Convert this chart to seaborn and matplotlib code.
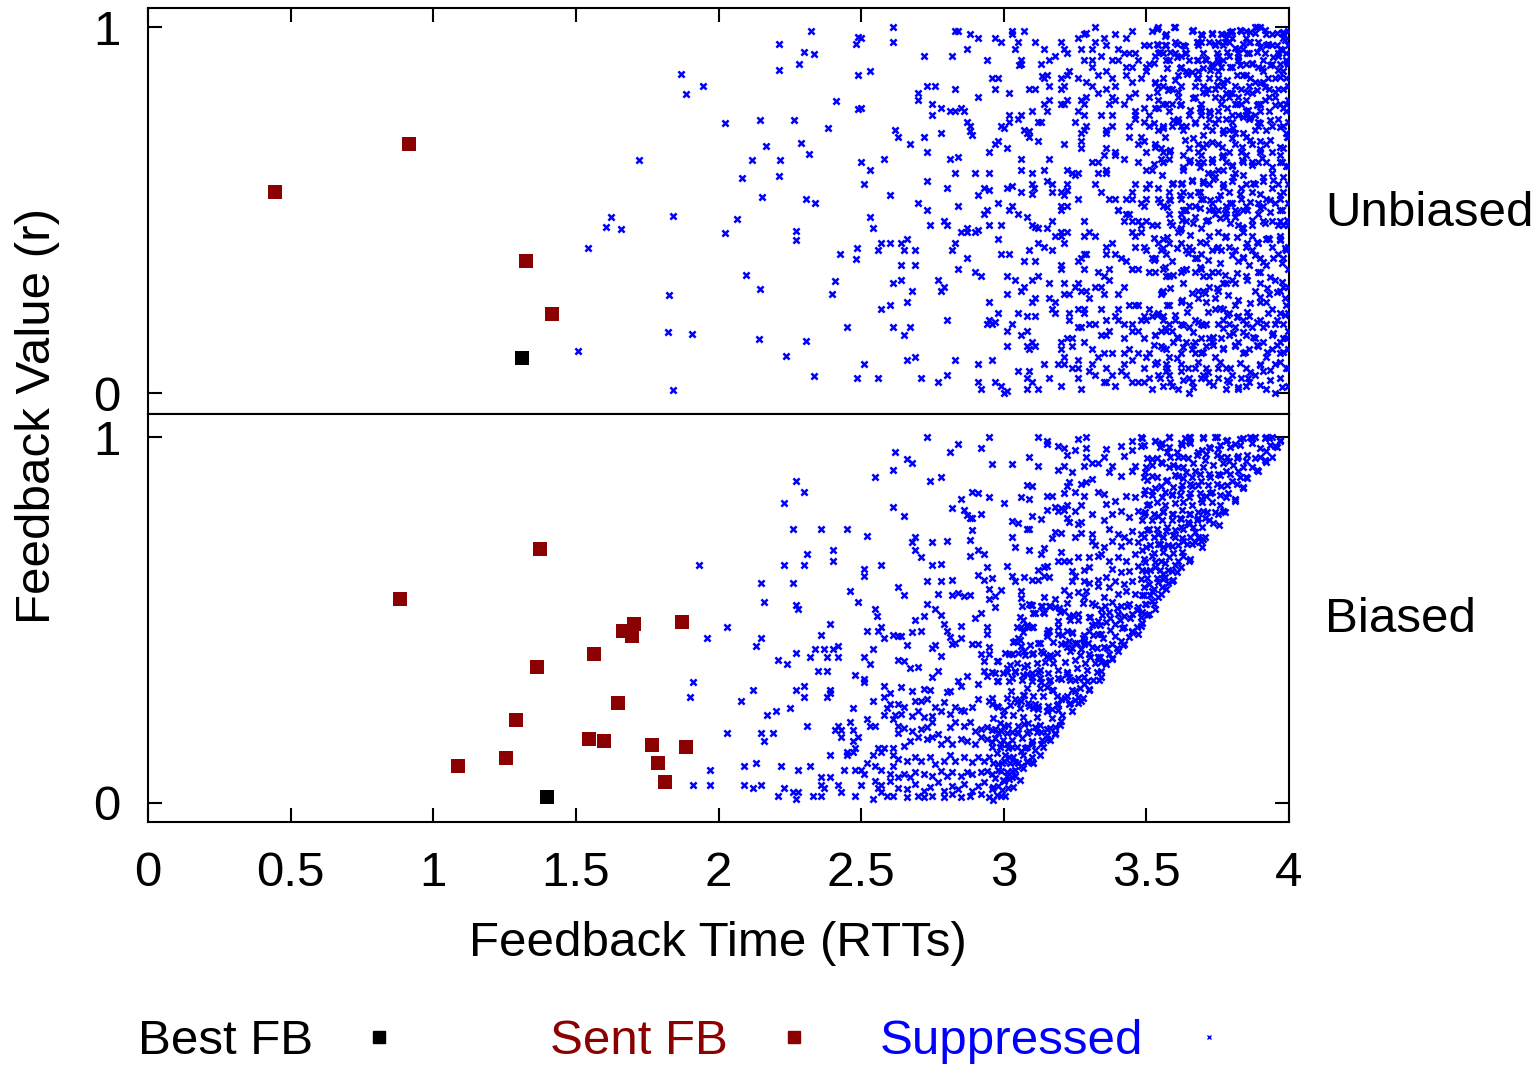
import numpy as np
import pandas as pd
import matplotlib
matplotlib.use("Agg")
import matplotlib.pyplot as plt
from matplotlib.lines import Line2D
import seaborn as sns

# ---------------- data ----------------
best_top_x = [1.311]
best_top_y = [0.096]
sent_top_x = [0.445, 0.915, 1.325, 1.416]
sent_top_y = [0.549, 0.680, 0.361, 0.216]

best_bot_x = [1.399]
best_bot_y = [0.016]
sent_bot_x = [0.883, 1.374, 1.087, 1.255, 1.290, 1.364, 1.564, 1.665, 1.704, 1.697,
              1.872, 1.648, 1.546, 1.599, 1.767, 1.886, 1.788, 1.812]
sent_bot_y = [0.557, 0.694, 0.101, 0.123, 0.227, 0.372, 0.407, 0.470, 0.489, 0.456,
              0.495, 0.273, 0.175, 0.169, 0.158, 0.153, 0.109, 0.057]

top_sup_a = [(2.323,0.989),(2.490,0.972),(2.213,0.954),(2.481,0.953),(2.301,0.933),(2.335,0.925),(2.282,0.898),(2.213,0.884),(1.867,0.872),(2.489,0.869),(1.946,0.840),(1.885,0.816),(2.412,0.797),(2.489,0.775),(2.145,0.745),(2.266,0.745),(2.023,0.738),(2.385,0.724),(2.290,0.682),(2.168,0.675),(2.316,0.653),(1.721,0.638),(2.116,0.638),(2.214,0.638),(2.211,0.593),(2.082,0.587),(2.152,0.537),(2.308,0.529),(2.337,0.520),(1.624,0.481),(1.842,0.485),(1.607,0.455),(1.657,0.449),(2.065,0.475),(2.022,0.437),(2.273,0.442),(2.273,0.417),(1.544,0.397),(2.484,0.396),(2.427,0.381),(2.483,0.367),(2.098,0.324),(2.410,0.305),(2.147,0.284),(2.399,0.272),(1.828,0.267),(2.449,0.182),(1.824,0.167),(1.906,0.162),(2.142,0.149),(2.308,0.143),(1.507,0.114),(2.237,0.101),(2.336,0.047),(2.484,0.041),(1.840,0.009)]

top_sup_b = [(2.61,1.00),(2.61,0.96),(2.50,0.97),(2.53,0.88),(2.72,0.92),(2.82,0.92),(2.83,0.99),(2.84,0.99),(2.88,0.98),(2.91,0.97),(2.87,0.94),(2.94,0.91),(2.97,0.97),(2.99,0.96),(3.03,0.99),(3.03,0.98),(3.07,0.99),(3.05,0.96),(3.04,0.94),(3.11,0.96),(3.14,0.94),(3.06,0.91),(3.06,0.90),(3.055,0.895),(3.13,0.90),(3.16,0.91),(3.18,0.92),(3.20,0.96),(3.21,0.94),(3.22,0.93),(3.26,0.97),
(2.96,0.86),(2.98,0.86),(3.02,0.82),(2.97,0.83),(2.91,0.81),(2.83,0.83),(2.76,0.84),(2.73,0.84),(2.70,0.82),(2.70,0.80),(2.75,0.79),(2.78,0.78),(2.81,0.77),(2.83,0.77),(2.85,0.78),(2.86,0.77),(2.75,0.76),(2.87,0.74),(2.88,0.73),(2.88,0.715),(2.89,0.705),(2.72,0.70),(2.78,0.71),(2.62,0.72),(2.63,0.70),(2.67,0.68),(2.73,0.66),(2.50,0.78),(2.50,0.63),(2.58,0.64),(2.53,0.61),(2.51,0.57),(2.81,0.64),(2.84,0.645),(2.83,0.60),(2.90,0.60),(2.95,0.60),(2.73,0.58),(2.80,0.56),(2.60,0.54),(2.70,0.52),(2.73,0.50),(2.84,0.51),(2.91,0.54),(2.93,0.56),(2.95,0.555),(2.98,0.52),(2.93,0.49),(2.94,0.50),(3.02,0.50),(3.03,0.51),(3.05,0.49),(3.01,0.56),(3.03,0.565),(3.06,0.55),(3.10,0.57),(3.105,0.56),(3.10,0.545),(3.10,0.60),(3.14,0.61),(3.15,0.58),(3.17,0.57),(3.17,0.55),(3.20,0.55),(3.21,0.54),(3.22,0.555),(3.22,0.57),(3.22,0.61),(3.24,0.60),(3.25,0.595),(3.26,0.60),(3.26,0.53),(3.20,0.51),(3.22,0.51),(3.20,0.50),(3.17,0.47),(3.15,0.45),(3.12,0.45),(3.11,0.455),(3.10,0.46),(3.08,0.48),(3.14,0.40),(3.17,0.39),(3.21,0.41),(3.18,0.43),(3.20,0.43),(3.20,0.44),(3.22,0.44),(3.12,0.41),(3.09,0.39),(3.07,0.36),(3.11,0.36),(3.12,0.32),(3.10,0.31),(3.16,0.30),(3.20,0.35),(3.20,0.34),(3.21,0.30),(3.25,0.29),(3.26,0.30),(3.26,0.36),
(3.02,0.74),(3.05,0.75),(3.06,0.76),(3.02,0.76),(2.99,0.73),(3.00,0.725),(2.98,0.69),(2.97,0.68),(2.95,0.66),(3.01,0.67),(3.06,0.64),(3.06,0.61),(3.07,0.72),(3.08,0.71),(3.09,0.70),(3.09,0.715),(3.10,0.77),(3.12,0.74),(3.13,0.74),(3.12,0.69),(3.16,0.64),(3.14,0.79),(3.15,0.77),(3.16,0.80),(3.14,0.86),(3.135,0.865),(3.15,0.87),(3.16,0.84),(3.20,0.86),(3.22,0.87),(3.23,0.88),(3.26,0.86),(3.21,0.84),(3.20,0.83),(3.09,0.83),(3.11,0.83),(3.20,0.79),(3.21,0.79),(3.22,0.80),(3.26,0.77),(3.25,0.74),(3.21,0.68),
(2.80,0.46),(2.79,0.47),(2.74,0.46),(2.85,0.44),(2.87,0.45),(2.87,0.44),(2.90,0.44),(2.91,0.445),(2.95,0.46),(2.99,0.46),(2.98,0.42),(3.02,0.38),(2.99,0.38),(2.87,0.37),(2.83,0.41),(2.82,0.39),(2.84,0.34),(2.90,0.33),(2.92,0.32),(2.77,0.31),(2.79,0.29),(2.78,0.28),(2.68,0.28),(2.66,0.25),(2.69,0.35),(2.69,0.39),(2.65,0.39),(2.64,0.35),(2.64,0.31),(2.61,0.30),(2.66,0.42),(2.64,0.41),(2.60,0.41),(2.57,0.41),(2.56,0.39),(2.54,0.45),(2.53,0.48),(2.57,0.23),(2.60,0.24),(2.61,0.18),(2.65,0.16),(2.67,0.18),(2.80,0.20),(2.95,0.25),(2.98,0.22),(2.95,0.20),(2.94,0.19),(2.96,0.19),(2.97,0.195),(3.05,0.22),(3.08,0.21),(3.11,0.21),(3.01,0.27),(3.06,0.28),(3.07,0.29),(3.10,0.25),(3.11,0.26),(3.01,0.32),(3.04,0.31),(3.16,0.26),(3.18,0.25),(3.17,0.23),(3.18,0.22),(3.21,0.27),(3.23,0.27),(3.23,0.22),(3.23,0.20),(3.26,0.23),(3.26,0.18),(3.20,0.14),(3.22,0.15),(3.24,0.15),(3.24,0.13),(3.20,0.12),(3.21,0.10),(3.08,0.17),(3.06,0.16),(3.03,0.19),(3.01,0.17),(3.01,0.13),(3.08,0.13),(3.10,0.14),(3.09,0.12),(3.11,0.13),(3.14,0.08),(3.19,0.08),(3.21,0.08),(3.24,0.07),(3.26,0.09),(3.26,0.07),(3.26,0.04),(3.16,0.04),(3.20,0.02),(3.09,0.06),(3.05,0.06),(3.08,0.04),(3.10,0.03),(3.12,0.01),(3.08,0.01),(3.00,0.00),(3.01,0.005),(2.97,0.03),(2.99,0.02),(2.91,0.03),(2.92,0.01),(2.91,0.08),(2.96,0.09),(2.83,0.09),(2.80,0.05),(2.77,0.03),(2.71,0.04),(2.69,0.10),(2.66,0.09),(2.56,0.04),(2.51,0.08)]

top_sup_c = [(3.32,1.00),(3.28,0.98),(3.29,0.985),(3.39,0.98),(3.45,0.99),(3.43,0.97),(3.35,0.97),(3.52,0.99),(3.54,1.00),(3.57,0.98),(3.60,1.00),(3.66,0.99),(3.69,0.98),(3.73,0.98),(3.76,0.98),(3.78,0.98),(3.80,0.99),(3.83,0.99),(3.85,0.99),(3.88,1.00),(3.90,1.00),(3.92,0.98),(3.94,0.98),(3.98,0.98),(3.98,0.97),(3.88,0.985),(3.78,0.97),(3.75,0.96),(3.80,0.97),(3.85,0.97),(3.68,0.96),(3.72,0.96),
(3.27,0.94),(3.32,0.96),(3.31,0.94),(3.36,0.95),(3.40,0.94),(3.42,0.93),(3.44,0.93),(3.46,0.93),(3.49,0.95),(3.51,0.95),(3.54,0.95),(3.57,0.95),(3.60,0.96),(3.63,0.95),(3.64,0.93),(3.68,0.95),(3.69,0.96),(3.70,0.93),(3.74,0.95),(3.77,0.95),(3.79,0.96),(3.82,0.94),(3.84,0.94),(3.86,0.93),(3.89,0.96),(3.92,0.95),(3.94,0.95),(3.96,0.93),(3.97,0.94),(3.99,0.93),(3.96,0.92),(3.82,0.93),(3.86,0.96),(3.56,0.93),(3.60,0.93),(3.54,0.93),
(3.28,0.91),(3.31,0.91),(3.34,0.92),(3.38,0.91),(3.40,0.91),(3.43,0.89),(3.45,0.89),(3.47,0.91),(3.50,0.89),(3.51,0.90),(3.53,0.92),(3.57,0.91),(3.58,0.91),(3.62,0.92),(3.62,0.89),(3.65,0.91),(3.68,0.91),(3.71,0.91),(3.73,0.90),(3.75,0.92),(3.75,0.91),(3.77,0.91),(3.79,0.92),(3.82,0.91),(3.73,0.89),(3.75,0.88),(3.76,0.89),(3.80,0.89),(3.84,0.87),(3.87,0.90),(3.89,0.89),(3.91,0.88),(3.94,0.90),(3.97,0.90),(3.98,0.88),(3.99,0.91),(3.85,0.90),(3.91,0.91),(3.31,0.89),(3.36,0.88),
(3.29,0.85),(3.33,0.87),(3.31,0.84),(3.36,0.83),(3.39,0.84),(3.38,0.86),(3.43,0.87),(3.45,0.85),(3.46,0.82),(3.48,0.86),(3.50,0.88),(3.53,0.85),(3.54,0.84),(3.56,0.86),(3.58,0.83),(3.59,0.83),(3.61,0.87),(3.62,0.84),(3.64,0.88),(3.67,0.84),(3.68,0.86),(3.70,0.84),(3.72,0.86),(3.74,0.83),(3.75,0.86),(3.77,0.84),(3.77,0.85),(3.81,0.84),(3.85,0.87),(3.86,0.84),(3.88,0.85),(3.91,0.85),(3.93,0.83),(3.96,0.83),(3.99,0.86),(3.83,0.83),(3.78,0.82),(3.95,0.86),(3.68,0.88),(3.56,0.84),
(3.27,0.80),(3.29,0.81),(3.33,0.82),(3.38,0.81),(3.39,0.80),(3.42,0.79),(3.44,0.81),(3.49,0.78),(3.54,0.80),(3.57,0.79),(3.59,0.79),(3.62,0.79),(3.61,0.81),(3.67,0.81),(3.69,0.79),(3.71,0.82),(3.74,0.81),(3.76,0.79),(3.79,0.81),(3.80,0.82),(3.81,0.79),(3.83,0.79),(3.85,0.80),(3.87,0.82),(3.89,0.79),(3.90,0.79),(3.93,0.81),(3.95,0.81),(3.97,0.79),(3.99,0.79),(3.37,0.79),(3.28,0.79),(3.51,0.81),
(3.28,0.76),(3.34,0.76),(3.38,0.76),(3.46,0.77),(3.46,0.76),(3.51,0.76),(3.54,0.78),(3.58,0.77),(3.61,0.75),(3.65,0.76),(3.69,0.77),(3.72,0.77),(3.75,0.77),(3.78,0.75),(3.80,0.76),(3.82,0.76),(3.85,0.77),(3.86,0.75),(3.88,0.76),(3.90,0.77),(3.93,0.77),(3.96,0.75),(3.99,0.77),(3.46,0.75),(3.69,0.76),(3.72,0.75),(3.85,0.76),(3.89,0.74),(3.80,0.74),
(3.27,0.71),(3.28,0.72),(3.29,0.73),(3.36,0.72),(3.36,0.71),(3.38,0.73),(3.44,0.73),(3.49,0.74),(3.51,0.73),(3.54,0.72),(3.56,0.73),(3.59,0.73),(3.61,0.74),(3.62,0.73),(3.64,0.73),(3.67,0.74),(3.71,0.73),(3.73,0.72),(3.77,0.71),(3.79,0.72),(3.81,0.71),(3.84,0.71),(3.85,0.70),(3.88,0.72),(3.92,0.72),(3.94,0.73),(3.98,0.73),(3.99,0.71),(3.89,0.73),(3.48,0.70),(3.49,0.69),(3.44,0.70),
(3.27,0.69),(3.27,0.67),(3.35,0.65),(3.36,0.67),(3.39,0.66),(3.39,0.65),(3.42,0.64),(3.47,0.68),(3.50,0.66),(3.53,0.68),(3.55,0.67),(3.56,0.66),(3.58,0.66),(3.63,0.65),(3.65,0.67),(3.68,0.66),(3.69,0.65),(3.73,0.64),(3.75,0.68),(3.77,0.65),(3.79,0.66),(3.81,0.68),(3.83,0.66),(3.85,0.65),(3.87,0.68),(3.90,0.69),(3.92,0.68),(3.94,0.66),(3.97,0.65),(3.98,0.67),(3.90,0.66),(3.71,0.68),(3.68,0.68),
(3.31,0.63),(3.33,0.63),(3.33,0.60),(3.36,0.61),(3.36,0.60),(3.47,0.63),(3.50,0.61),(3.52,0.61),(3.55,0.64),(3.56,0.63),(3.58,0.64),(3.63,0.61),(3.65,0.63),(3.68,0.63),(3.70,0.63),(3.73,0.63),(3.75,0.61),(3.78,0.63),(3.80,0.62),(3.81,0.60),(3.84,0.63),(3.87,0.63),(3.89,0.63),(3.92,0.63),(3.94,0.60),(3.97,0.63),(3.99,0.62),(3.77,0.61),(3.73,0.60),
(3.32,0.57),(3.34,0.55),(3.46,0.57),(3.51,0.57),(3.50,0.56),(3.54,0.56),(3.58,0.55),(3.59,0.57),(3.62,0.57),(3.63,0.55),(3.66,0.58),(3.70,0.58),(3.72,0.57),(3.74,0.59),(3.77,0.57),(3.80,0.58),(3.83,0.56),(3.85,0.57),(3.88,0.57),(3.91,0.58),(3.94,0.56),(3.96,0.57),(3.98,0.55),(3.68,0.55),(3.79,0.55),(3.87,0.55),
(3.37,0.53),(3.39,0.53),(3.43,0.53),(3.45,0.55),(3.45,0.53),(3.48,0.52),(3.50,0.53),(3.54,0.53),(3.56,0.51),(3.58,0.53),(3.62,0.53),(3.65,0.51),(3.69,0.53),(3.70,0.53),(3.73,0.52),(3.75,0.53),(3.78,0.51),(3.80,0.52),(3.83,0.53),(3.85,0.51),(3.89,0.52),(3.92,0.53),(3.95,0.52),(3.97,0.53),(3.40,0.50),(3.44,0.49),(3.49,0.51),(3.63,0.50),(3.67,0.51),(3.72,0.50),(3.75,0.50),(3.78,0.50),(3.81,0.50),(3.84,0.50),(3.91,0.51),(3.97,0.50)]

top_sup_d = [(3.28,0.47),(3.28,0.43),(3.30,0.44),(3.32,0.43),(3.40,0.50),(3.43,0.49),(3.42,0.47),(3.45,0.47),(3.47,0.47),(3.48,0.46),(3.50,0.47),(3.52,0.46),(3.45,0.44),(3.46,0.43),(3.48,0.44),(3.58,0.49),(3.59,0.46),(3.62,0.49),(3.64,0.50),(3.64,0.47),(3.62,0.45),(3.61,0.44),(3.67,0.48),(3.71,0.47),(3.69,0.45),(3.74,0.49),(3.78,0.48),(3.81,0.48),(3.82,0.46),(3.84,0.45),(3.78,0.43),(3.84,0.44),(3.87,0.46),(3.89,0.49),(3.91,0.47),(3.94,0.47),(3.97,0.47),(3.98,0.46),(3.92,0.42),(3.87,0.43),(3.97,0.43),(3.75,0.44),(3.72,0.43),(3.71,0.41),
(3.36,0.40),(3.38,0.41),(3.36,0.38),(3.39,0.38),(3.41,0.37),(3.43,0.36),(3.45,0.34),(3.46,0.40),(3.49,0.40),(3.50,0.39),(3.52,0.37),(3.54,0.41),(3.56,0.42),(3.55,0.39),(3.58,0.41),(3.57,0.38),(3.59,0.36),(3.62,0.41),(3.64,0.39),(3.65,0.40),(3.66,0.39),(3.67,0.37),(3.69,0.38),(3.73,0.39),(3.75,0.40),(3.76,0.39),(3.79,0.40),(3.81,0.39),(3.82,0.36),(3.85,0.40),(3.84,0.37),(3.87,0.39),(3.90,0.37),(3.94,0.40),(3.96,0.38),(3.98,0.37),(3.99,0.39),(3.89,0.41),(3.93,0.42),(3.97,0.42),(3.53,0.37),(3.28,0.38),(3.29,0.38),(3.27,0.37),
(3.28,0.34),(3.33,0.33),(3.35,0.32),(3.37,0.34),(3.37,0.31),(3.32,0.29),(3.34,0.29),(3.42,0.29),(3.40,0.27),(3.45,0.34),(3.47,0.34),(3.51,0.33),(3.53,0.33),(3.56,0.34),(3.57,0.32),(3.58,0.32),(3.62,0.33),(3.64,0.34),(3.67,0.33),(3.69,0.34),(3.70,0.32),(3.72,0.32),(3.75,0.33),(3.78,0.30),(3.80,0.31),(3.81,0.30),(3.77,0.30),(3.70,0.28),(3.72,0.29),(3.75,0.28),(3.63,0.30),(3.68,0.28),(3.55,0.27),(3.56,0.28),(3.85,0.32),(3.89,0.33),(3.92,0.35),(3.95,0.31),(3.98,0.29),(3.90,0.30),(3.93,0.27),(3.97,0.28),(3.86,0.35),(3.88,0.28),
(3.27,0.28),(3.29,0.28),(3.30,0.26),(3.35,0.27),(3.28,0.23),(3.28,0.22),(3.34,0.23),(3.36,0.20),(3.40,0.23),(3.39,0.21),(3.44,0.24),(3.46,0.24),(3.47,0.24),(3.49,0.21),(3.51,0.23),(3.54,0.22),(3.56,0.21),(3.58,0.24),(3.62,0.25),(3.65,0.24),(3.68,0.26),(3.71,0.25),(3.74,0.26),(3.77,0.23),(3.74,0.23),(3.79,0.22),(3.81,0.24),(3.82,0.21),(3.84,0.20),(3.86,0.21),(3.90,0.25),(3.92,0.25),(3.94,0.23),(3.97,0.22),(3.99,0.24),(3.65,0.18),(3.62,0.19),(3.67,0.20),(3.69,0.19),(3.71,0.19),(3.75,0.19),(3.77,0.20),(3.79,0.19),(3.81,0.18),(3.85,0.19),(3.87,0.18),(3.90,0.20),(3.92,0.19),(3.95,0.19),(3.98,0.19),(3.27,0.18),(3.30,0.19),(3.32,0.19),(3.40,0.20),(3.42,0.19),(3.45,0.19),(3.48,0.20),(3.50,0.20),(3.52,0.21),(3.56,0.20),(3.58,0.19),(3.60,0.20),
(3.28,0.14),(3.31,0.12),(3.34,0.16),(3.36,0.16),(3.37,0.17),(3.42,0.15),(3.45,0.17),(3.47,0.17),(3.49,0.15),(3.53,0.16),(3.55,0.17),(3.57,0.17),(3.59,0.17),(3.61,0.15),(3.64,0.14),(3.67,0.14),(3.69,0.15),(3.72,0.15),(3.73,0.14),(3.76,0.15),(3.79,0.16),(3.82,0.14),(3.85,0.16),(3.88,0.15),(3.91,0.14),(3.94,0.16),(3.97,0.14),(3.99,0.15),(3.35,0.11),(3.38,0.11),(3.42,0.11),(3.44,0.12),(3.47,0.11),(3.50,0.10),(3.51,0.11),(3.55,0.13),(3.57,0.12),(3.58,0.10),(3.62,0.11),(3.66,0.12),(3.67,0.11),(3.69,0.11),(3.71,0.13),(3.74,0.10),(3.77,0.12),(3.81,0.13),(3.84,0.11),(3.86,0.12),(3.89,0.13),(3.92,0.10),(3.94,0.12),(3.97,0.11),(3.33,0.10),(3.31,0.08),
(3.36,0.07),(3.38,0.05),(3.36,0.03),(3.32,0.05),(3.27,0.01),(3.39,0.02),(3.41,0.06),(3.43,0.05),(3.45,0.03),(3.47,0.03),(3.49,0.03),(3.51,0.04),(3.54,0.05),(3.57,0.06),(3.58,0.05),(3.59,0.02),(3.62,0.06),(3.65,0.04),(3.66,0.03),(3.69,0.04),(3.70,0.05),(3.72,0.03),(3.75,0.04),(3.78,0.01),(3.79,0.03),(3.80,0.05),(3.82,0.01),(3.83,0.04),(3.85,0.02),(3.86,0.03),(3.88,0.05),(3.91,0.06),(3.92,0.01),(3.95,0.00),(3.97,0.04),(3.99,0.07),(3.65,0.00),(3.61,0.01),(3.56,0.02),(3.52,0.01),(3.57,0.08),(3.62,0.08),(3.67,0.07),(3.71,0.07),(3.75,0.07),(3.78,0.07),(3.85,0.07),(3.90,0.08),(3.95,0.08),(3.42,0.08),(3.45,0.09),(3.49,0.07),(3.53,0.08),(3.35,0.03),(3.30,0.06)]

top_sup_e = [(3.536,0.996),(3.597,0.999),(3.665,0.992),(3.694,0.978),(3.729,0.984),(3.764,0.981),(3.793,0.987),(3.828,0.992),(3.863,0.987),(3.889,0.999),(3.916,0.992),(3.957,0.983),(3.98,0.987),(3.566,0.975),(3.536,0.953),(3.566,0.951),(3.606,0.955),(3.636,0.948),(3.677,0.96),(3.741,0.955),(3.776,0.96),(3.811,0.942),(3.84,0.955),(3.863,0.96),(3.898,0.946),(3.928,0.955),(3.957,0.951),(3.986,0.964),(3.548,0.932),(3.583,0.932),(3.606,0.919),(3.636,0.928),(3.677,0.91),(3.706,0.914),(3.747,0.928),(3.782,0.932),(3.822,0.919),(3.852,0.928),(3.887,0.932),(3.916,0.928),(3.945,0.919),(3.974,0.937),(3.525,0.901),(3.571,0.887),(3.618,0.887),(3.659,0.878),(3.7,0.887),(3.723,0.882),(3.752,0.905),(3.793,0.891),(3.828,0.896),(3.869,0.901),(3.904,0.887),(3.933,0.896),(3.963,0.882),(3.992,0.905),
(3.531,0.846),(3.577,0.828),(3.601,0.855),(3.641,0.873),(3.677,0.86),(3.717,0.832),(3.747,0.841),(3.782,0.855),(3.817,0.869),(3.863,0.86),(3.898,0.846),(3.928,0.86),(3.969,0.864),(3.536,0.823),(3.612,0.823),(3.665,0.805),(3.7,0.823),(3.764,0.805),(3.793,0.819),(3.822,0.809),(3.852,0.823),(3.887,0.828),(3.916,0.837),(3.951,0.823),(3.98,0.832),(3.531,0.778),(3.56,0.791),(3.618,0.787),(3.653,0.773),(3.688,0.778),(3.723,0.764),(3.752,0.75),(3.782,0.778),(3.817,0.791),(3.858,0.773),(3.887,0.787),(3.916,0.8),(3.951,0.787),(3.98,0.778),
(3.525,0.737),(3.56,0.723),(3.595,0.746),(3.63,0.718),(3.671,0.737),(3.7,0.705),(3.741,0.737),(3.77,0.718),(3.805,0.723),(3.84,0.755),(3.863,0.755),(3.898,0.737),(3.933,0.746),(3.969,0.727),(3.992,0.70),(3.531,0.673),(3.566,0.70),(3.583,0.664),(3.636,0.691),(3.665,0.696),(3.7,0.673),(3.729,0.686),(3.764,0.673),(3.799,0.696),(3.834,0.673),(3.863,0.691),(3.898,0.668),(3.933,0.691),(3.969,0.673),
(3.525,0.627),(3.56,0.632),(3.63,0.618),(3.653,0.636),(3.688,0.618),(3.717,0.60),(3.764,0.645),(3.799,0.623),(3.834,0.636),(3.869,0.623),(3.904,0.641),(3.939,0.618),(3.974,0.632),(3.554,0.595),(3.595,0.573),(3.624,0.573),(3.659,0.582),(3.7,0.573),(3.735,0.586),(3.77,0.564),(3.805,0.591),(3.84,0.595),(3.875,0.573),(3.91,0.591),(3.945,0.582),(3.98,0.591),(3.548,0.523),(3.583,0.527),(3.618,0.541),(3.653,0.541),(3.688,0.55),(3.723,0.527),(3.758,0.541),(3.793,0.518),(3.828,0.545),(3.863,0.523),(3.898,0.545),(3.933,0.527),(3.969,0.541)]

top_sup_f = [(3.571,0.509),(3.636,0.50),(3.688,0.505),(3.735,0.503),(3.776,0.491),(3.817,0.496),(3.852,0.50),(3.898,0.505),(3.933,0.496),(3.974,0.50),(3.536,0.459),(3.583,0.468),(3.624,0.473),(3.665,0.464),(3.717,0.473),(3.758,0.478),(3.793,0.464),(3.834,0.455),(3.869,0.473),(3.916,0.464),(3.963,0.459),(3.992,0.473),(3.525,0.423),(3.571,0.427),(3.618,0.446),(3.653,0.432),(3.688,0.414),(3.747,0.396),(3.776,0.427),(3.817,0.427),(3.852,0.409),(3.887,0.414),(3.928,0.423),(3.969,0.418),(3.986,0.396),(3.56,0.396),(3.606,0.396),(3.647,0.382),(3.677,0.368),(3.717,0.364),(3.758,0.355),(3.799,0.377),(3.84,0.373),(3.881,0.377),(3.91,0.359),(3.945,0.368),(3.974,0.355),
(3.525,0.364),(3.566,0.345),(3.595,0.323),(3.63,0.336),(3.688,0.345),(3.729,0.332),(3.776,0.323),(3.817,0.327),(3.852,0.309),(3.898,0.332),(3.933,0.318),(3.974,0.304),(3.554,0.277),(3.583,0.286),(3.624,0.254),(3.659,0.273),(3.706,0.273),(3.747,0.286),(3.787,0.268),(3.822,0.254),(3.863,0.245),(3.898,0.263),(3.922,0.286),(3.957,0.277),(3.986,0.259),
(3.536,0.213),(3.571,0.241),(3.601,0.213),(3.641,0.222),(3.682,0.195),(3.717,0.222),(3.758,0.232),(3.782,0.213),(3.817,0.209),(3.852,0.222),(3.887,0.195),(3.928,0.218),(3.957,0.20),(3.986,0.213),(3.531,0.159),(3.566,0.177),(3.606,0.154),(3.63,0.186),(3.665,0.168),(3.7,0.186),(3.735,0.154),(3.77,0.177),(3.805,0.163),(3.84,0.168),(3.875,0.154),(3.91,0.181),(3.945,0.163),(3.98,0.15),
(3.525,0.131),(3.56,0.122),(3.595,0.14),(3.63,0.127),(3.665,0.131),(3.7,0.113),(3.735,0.131),(3.77,0.122),(3.811,0.131),(3.846,0.113),(3.887,0.131),(3.922,0.113),(3.957,0.131),(3.98,0.113),(3.536,0.086),(3.571,0.068),(3.606,0.095),(3.647,0.068),(3.682,0.086),(3.717,0.058),(3.758,0.086),(3.793,0.068),(3.828,0.081),(3.863,0.058),(3.898,0.077),(3.933,0.063),(3.969,0.086),(3.548,0.04),(3.583,0.031),(3.63,0.036),(3.665,0.017),(3.706,0.04),(3.735,0.022),(3.782,0.036),(3.822,0.017),(3.858,0.04),(3.898,0.022),(3.933,0.036),(3.974,0.017)]

top_sup_edge = [(3.997,0.99),(3.997,0.95),(3.997,0.90),(3.997,0.84),(3.997,0.80),(3.997,0.74),(3.997,0.70),(3.997,0.62),(3.997,0.57),(3.997,0.52),(3.997,0.46),(3.997,0.40),(3.997,0.34),(3.997,0.29),(3.997,0.22),(3.997,0.17),(3.997,0.12),(3.997,0.07),(3.997,0.02)]

bot_sup_a = [(2.62,0.96),(2.55,0.89),(2.61,0.91),(2.27,0.88),(2.30,0.85),(2.23,0.82),(2.61,0.81),(2.26,0.75),(2.36,0.75),(2.45,0.75),(2.52,0.73),(2.31,0.68),(2.40,0.69),(2.40,0.66),(1.93,0.65),(2.23,0.65),(2.30,0.65),(2.51,0.64),(2.57,0.65),(2.51,0.62),(2.15,0.60),(2.26,0.60),(2.46,0.58),(2.63,0.59),(2.16,0.55),(2.49,0.55),(2.27,0.54),(2.28,0.53),(2.55,0.53),(2.555,0.51),(2.39,0.49),(2.03,0.48),(2.57,0.48),(2.56,0.47),(2.52,0.47),(2.36,0.46),(2.15,0.45),(1.96,0.45),(2.58,0.45),(2.61,0.46),(2.63,0.455),(2.13,0.43),(2.27,0.41),(2.34,0.42),(2.37,0.42),(2.40,0.42),(2.42,0.43),(2.32,0.40),(2.38,0.40),(2.42,0.40),(2.54,0.42),(2.51,0.40),(2.21,0.39),(2.24,0.38),(2.53,0.38),(2.63,0.39),(2.35,0.36),(2.38,0.36),(2.48,0.35),(2.51,0.34),(2.51,0.33),(1.91,0.33),(1.90,0.29),(2.12,0.31),(2.27,0.31),(2.30,0.32),(2.39,0.31),(2.39,0.30),(2.38,0.29),(2.30,0.29),(2.08,0.28),(2.58,0.32),(2.60,0.30),(2.58,0.29),(2.54,0.28),(2.63,0.27),(2.59,0.26),(2.60,0.27),(2.47,0.26),(2.25,0.26),(2.20,0.25),(2.17,0.24),(2.58,0.24),(2.62,0.24),(2.61,0.23),(2.52,0.23),(2.46,0.22),(2.31,0.21),(2.53,0.21),(2.55,0.21),(2.42,0.21),(2.41,0.20),(2.43,0.20),(2.47,0.20),(2.63,0.21),(2.63,0.19),(2.03,0.19),(2.15,0.19),(2.19,0.19),(2.16,0.17),(2.49,0.18),(2.43,0.18),(2.47,0.17),(2.56,0.15),(2.58,0.15),(2.61,0.15),(2.48,0.15),(2.45,0.14),(2.47,0.14),(2.45,0.13),(2.39,0.13),(2.54,0.13),(2.57,0.14),(2.61,0.13),(2.63,0.12),(2.52,0.11),(2.61,0.10),(2.09,0.10),(2.13,0.11),(2.22,0.10),(2.28,0.09),(2.32,0.10),(1.97,0.09),(2.55,0.10),(2.48,0.09),(2.50,0.09),(2.51,0.08),(2.57,0.09),(2.44,0.09),(2.36,0.07),(2.39,0.07),(2.60,0.08),(2.63,0.07),(2.55,0.06),(2.60,0.06),(1.91,0.05),(1.97,0.05),(2.09,0.05),(2.15,0.05),(2.12,0.04),(2.23,0.04),(2.36,0.05),(2.37,0.04),(2.42,0.05),(2.50,0.05),(2.56,0.04),(2.57,0.05),(2.63,0.04),(2.21,0.02),(2.26,0.03),(2.28,0.03),(2.27,0.01),(2.33,0.02),(2.36,0.02),(2.43,0.03),(2.48,0.02),(2.54,0.01),(2.57,0.03),(2.59,0.02),(2.61,0.02)]

bot_sup_b = [(2.73,1.00),(2.84,0.98),(2.81,0.96),(2.92,0.97),(2.95,1.00),(3.12,1.00),(3.15,0.99),(3.15,0.98),(3.19,0.975),(3.21,0.97),(3.26,0.995),(3.29,1.00),(3.25,0.965),(3.29,0.97),(2.66,0.94),(2.68,0.93),(2.78,0.89),(2.74,0.88),(2.96,0.925),(3.03,0.925),(3.09,0.945),(3.12,0.92),(3.22,0.95),(3.21,0.92),(3.19,0.91),(3.24,0.905),(3.28,0.92),(3.31,0.93),(3.29,0.945),(3.33,0.93),(3.22,0.865),(3.23,0.876),(3.27,0.873),(3.29,0.876),(3.31,0.885),(3.33,0.85),(2.89,0.85),(2.91,0.847),(2.95,0.836),(3.00,0.82),(3.06,0.837),(3.09,0.83),(3.08,0.87),(3.10,0.867),(3.15,0.84),(3.17,0.84),(3.21,0.846),(3.25,0.85),(3.28,0.84),(3.18,0.81),(3.22,0.813),(3.19,0.797),(3.21,0.80),(3.25,0.797),(3.27,0.814),(3.31,0.79),(2.85,0.83),(2.82,0.807),(2.86,0.80),(2.87,0.787),(2.89,0.78),(2.92,0.79),(2.88,0.778),(2.65,0.785),(3.03,0.77),(3.05,0.765),(3.08,0.748),(3.09,0.748),(3.10,0.783),(3.13,0.776),(3.15,0.80),(3.20,0.805),(3.22,0.778),(3.23,0.767),(3.26,0.762),(3.27,0.767),
(2.75,0.714),(2.80,0.717),(2.69,0.69),(2.68,0.712),(2.69,0.726),(2.71,0.671),(2.75,0.65),(2.78,0.653),(2.73,0.607),(2.78,0.607),(2.82,0.61),(2.88,0.674),(2.88,0.72),(2.89,0.746),(2.93,0.68),(2.91,0.69),(2.94,0.646),(2.91,0.623),(2.96,0.615),(2.93,0.61),(3.01,0.648),(3.03,0.726),(3.04,0.70),(3.09,0.69),(3.14,0.696),(3.13,0.68),(3.18,0.74),(3.17,0.723),(3.20,0.737),(3.25,0.728),(3.27,0.737),(3.31,0.735),(3.20,0.685),(3.21,0.662),(3.19,0.66),(3.23,0.662),(3.26,0.671),(3.30,0.671),(3.33,0.676),(3.31,0.715),(3.32,0.706),(3.12,0.638),(3.14,0.644),(3.15,0.648),(3.12,0.61),(3.10,0.609),(3.14,0.621),(3.16,0.617),(3.03,0.621),(3.04,0.607),(3.07,0.617),(3.24,0.635),(3.25,0.62),(3.28,0.637),(3.30,0.646),(3.28,0.607),(3.24,0.607),(3.30,0.60),(3.33,0.61),(3.33,0.594),
(2.65,0.568),(2.77,0.571),(2.82,0.567),(2.84,0.574),(2.86,0.565),(2.88,0.567),(2.95,0.586),(2.95,0.557),(2.97,0.565),(2.99,0.582),(2.97,0.535),(2.92,0.518),(2.90,0.505),(2.73,0.544),(2.76,0.529),(2.78,0.514),(2.69,0.50),(2.72,0.512),(2.68,0.468),(2.71,0.471),(2.79,0.489),(2.80,0.471),(2.81,0.454),(2.85,0.485),(2.94,0.482),(3.06,0.578),(3.06,0.56),(3.14,0.563),(3.18,0.558),(3.09,0.544),(3.10,0.542),(3.13,0.539),(3.16,0.537),(3.11,0.519),(3.14,0.519),(3.18,0.535),(3.21,0.583),(3.23,0.567),(3.26,0.576),(3.28,0.564),(3.29,0.58),(3.31,0.546),(3.21,0.525),(3.23,0.512),(3.26,0.516),(3.30,0.507),(3.33,0.498),(2.64,0.455),(2.66,0.432),(2.75,0.423),(2.76,0.433),(2.78,0.402),(2.82,0.434),(2.85,0.451),(2.83,0.436),(2.89,0.434),(2.91,0.434),(2.94,0.462),(2.92,0.407),(2.93,0.389),(2.95,0.407),(2.95,0.425),(2.98,0.388),(3.02,0.407),(3.04,0.443),(3.05,0.451),(3.06,0.48),(3.08,0.485),(3.09,0.48),(3.10,0.48),(3.06,0.43),(3.07,0.414),(3.10,0.407),(3.12,0.436),(3.13,0.416),(3.15,0.464),(3.16,0.471),(3.19,0.48),(3.19,0.462),(3.22,0.471),(3.24,0.466),(3.20,0.434),(3.23,0.443),(3.25,0.436),(3.28,0.459),(3.28,0.443),(3.30,0.471),(3.32,0.489),(3.33,0.462),(3.15,0.403),(3.17,0.398),(3.22,0.425),(3.24,0.424),(3.27,0.421),(3.28,0.434),(3.31,0.425),(3.30,0.407),(3.33,0.398),(3.34,0.384),
(2.65,0.389),(2.67,0.368),(2.70,0.371),(2.75,0.343),(2.77,0.362),(2.74,0.31),(2.72,0.311),(2.68,0.307),(2.64,0.316),(2.69,0.28),(2.71,0.28),(2.73,0.284),(2.76,0.263),(2.79,0.277),(2.81,0.307),(2.80,0.302),(2.84,0.334),(2.85,0.32),(2.87,0.348),(2.91,0.325),(2.93,0.362),(2.94,0.348),(2.96,0.357),(2.98,0.334),(3.01,0.357),(3.02,0.334),(3.04,0.362),(3.07,0.371),(3.08,0.352),(3.10,0.343),(3.12,0.357),(3.13,0.33),(3.15,0.316),(3.16,0.334),(3.17,0.31),(3.20,0.339),(3.22,0.352),(3.23,0.343),(3.25,0.336),(3.28,0.343),(3.28,0.325),(3.30,0.311),(3.25,0.307),(3.26,0.289),(3.23,0.27),(3.24,0.252),(3.27,0.28),(3.22,0.293),(3.20,0.284),(3.19,0.27),(3.17,0.257),(3.15,0.252),(3.12,0.257),(3.11,0.27),(3.09,0.266),(3.06,0.28),(3.07,0.295),(3.04,0.284),(3.01,0.286),(3.00,0.254),(2.98,0.261),(2.96,0.27),(2.95,0.28),(2.91,0.284),(2.89,0.261),(2.86,0.25),(2.85,0.254),(2.83,0.261),(2.81,0.243),(2.78,0.252),(2.75,0.238),(2.72,0.234),(2.70,0.252),(2.68,0.238),(2.65,0.261),(2.64,0.243),
(2.65,0.204),(2.68,0.198),(2.71,0.202),(2.73,0.207),(2.75,0.22),(2.77,0.188),(2.81,0.207),(2.83,0.22),(2.86,0.211),(2.88,0.22),(2.90,0.198),(2.92,0.202),(2.94,0.208),(2.97,0.202),(2.99,0.198),(3.00,0.211),(3.03,0.193),(3.05,0.19),(3.07,0.216),(3.09,0.198),(3.11,0.207),(3.13,0.193),(3.15,0.202),(3.18,0.207),(3.20,0.225),(3.18,0.188),(3.15,0.175),(3.13,0.161),(3.10,0.161),(3.08,0.152),(3.06,0.143),(3.03,0.152),(3.01,0.161),(2.99,0.161),(2.96,0.166),(2.94,0.175),(2.92,0.18),(2.90,0.161),(2.87,0.17),(2.85,0.175),(2.82,0.161),(2.80,0.175),(2.78,0.161),(2.75,0.18),(2.73,0.175),(2.70,0.18),(2.67,0.17),(2.65,0.157),(2.66,0.116),(2.69,0.125),(2.71,0.116),(2.74,0.125),(2.76,0.107),(2.79,0.116),(2.81,0.13),(2.83,0.116),(2.86,0.125),(2.89,0.111),(2.91,0.125),(2.93,0.116),(2.95,0.125),(2.98,0.107),(3.00,0.116),(3.02,0.125),(3.04,0.111),(3.06,0.102),(3.08,0.116),(3.10,0.111),(3.03,0.088),(3.01,0.075),(2.99,0.088),(2.96,0.079),(2.94,0.088),(2.92,0.084),(2.89,0.079),(2.87,0.084),(2.85,0.075),(2.82,0.084),(2.80,0.075),(2.78,0.088),(2.75,0.075),(2.72,0.079),(2.69,0.084),(2.67,0.07),(2.65,0.079),(2.66,0.038),(2.69,0.052),(2.72,0.034),(2.74,0.043),(2.77,0.056),(2.79,0.034),(2.82,0.047),(2.84,0.038),(2.86,0.052),(2.89,0.034),(2.91,0.047),(2.93,0.056),(2.96,0.038),(2.98,0.047),(3.00,0.061),(3.02,0.065),(3.04,0.075),(2.99,0.02),(2.95,0.015),(2.92,0.024),(2.88,0.02),(2.85,0.015),(2.82,0.024),(2.79,0.015),(2.75,0.02),(2.72,0.015),(2.70,0.02),(2.66,0.015)]

bot_sup_c = [(3.36,0.968),(3.41,0.976),(3.45,0.99),(3.48,1.00),(3.45,0.965),(3.48,0.976),(3.53,0.99),(3.55,0.981),(3.58,1.00),(3.58,0.972),(3.62,0.983),(3.65,1.00),(3.65,0.99),(3.70,1.00),(3.74,1.00),(3.72,0.972),(3.75,0.967),(3.78,0.99),(3.81,0.981),(3.84,0.997),(3.87,0.997),(3.88,1.00),(3.92,1.00),(3.93,0.997),(3.97,0.99),(3.95,0.976),(3.92,0.963),(3.90,0.945),(3.89,0.908),(3.85,0.935),(3.82,0.949),(3.79,0.935),(3.76,0.945),(3.71,0.954),(3.68,0.958),(3.63,0.945),(3.61,0.917),(3.58,0.919),(3.55,0.931),(3.52,0.94),(3.50,0.917),(3.46,0.922),(3.42,0.949),(3.38,0.922),(3.35,0.945),(3.37,0.904),(3.41,0.894),(3.45,0.908),(3.49,0.89),(3.52,0.894),(3.57,0.881),(3.61,0.894),(3.64,0.904),(3.67,0.908),(3.69,0.881),(3.72,0.899),(3.75,0.899),(3.78,0.908),(3.82,0.908),(3.80,0.881),(3.84,0.863),(3.85,0.89),(3.87,0.917),(3.92,0.931),
(3.35,0.844),(3.36,0.817),(3.39,0.826),(3.43,0.84),(3.46,0.835),(3.49,0.844),(3.52,0.853),(3.55,0.867),(3.59,0.844),(3.62,0.858),(3.65,0.835),(3.66,0.867),(3.69,0.83),(3.71,0.84),(3.73,0.849),(3.76,0.867),(3.78,0.835),(3.81,0.826),(3.77,0.799),(3.75,0.79),(3.72,0.772),(3.70,0.799),(3.68,0.78),(3.65,0.79),(3.62,0.776),(3.59,0.79),(3.56,0.799),(3.54,0.785),(3.51,0.817),(3.49,0.79),(3.47,0.799),(3.44,0.781),(3.41,0.799),(3.38,0.79),(3.35,0.772),(3.37,0.749),(3.40,0.735),(3.42,0.726),(3.45,0.744),(3.48,0.735),(3.51,0.749),(3.54,0.735),(3.57,0.744),(3.60,0.726),(3.62,0.753),(3.65,0.762),(3.67,0.74),(3.69,0.717),(3.70,0.721),(3.66,0.708),(3.63,0.717),(3.59,0.703),(3.56,0.699),(3.54,0.708),(3.50,0.699),(3.47,0.712),(3.44,0.717),(3.41,0.703),(3.38,0.717),(3.35,0.699),
(3.34,0.68),(3.37,0.662),(3.40,0.671),(3.43,0.662),(3.46,0.68),(3.49,0.667),(3.52,0.676),(3.55,0.662),(3.58,0.671),(3.61,0.662),(3.63,0.676),(3.65,0.662),(3.62,0.644),(3.59,0.635),(3.56,0.626),(3.53,0.644),(3.50,0.635),(3.47,0.648),(3.44,0.635),(3.41,0.63),(3.38,0.639),(3.36,0.617),(3.39,0.607),(3.42,0.598),(3.45,0.607),(3.48,0.612),(3.51,0.598),(3.54,0.603),(3.56,0.612),(3.59,0.607),(3.57,0.585),(3.55,0.571),(3.52,0.58),(3.49,0.567),(3.46,0.571),(3.43,0.58),(3.40,0.571),(3.37,0.589),(3.35,0.562),(3.38,0.548),(3.41,0.539),(3.44,0.544),(3.47,0.535),(3.50,0.544),(3.52,0.553),(3.53,0.53),
(3.51,0.516),(3.48,0.507),(3.45,0.516),(3.42,0.512),(3.40,0.516),(3.37,0.521),(3.34,0.53),(3.36,0.494),(3.39,0.489),(3.42,0.48),(3.45,0.471),(3.48,0.485),(3.47,0.462),(3.44,0.453),(3.41,0.443),(3.38,0.434),(3.35,0.425),(3.34,0.462),(3.42,0.434),(3.40,0.416),(3.37,0.407),(3.38,0.393),(3.36,0.38),(3.34,0.362),(3.34,0.343),(3.33,0.398)]

bot_sup_d = [(3.063,0.537),(3.094,0.541),(3.133,0.539),(3.162,0.539),(3.195,0.532),(3.221,0.546),(3.279,0.546),(3.32,0.541),(3.355,0.537),(3.396,0.532),(3.431,0.537),(3.466,0.528),(3.104,0.519),(3.139,0.523),(3.197,0.523),(3.244,0.514),(3.302,0.509),(3.343,0.514),(3.372,0.505),(3.408,0.50),(3.443,0.505),(3.466,0.482),(3.057,0.509),(3.069,0.499),(3.045,0.482),(3.08,0.487),(3.104,0.482),(3.156,0.473),(3.191,0.496),(3.232,0.50),(3.262,0.50),(3.308,0.487),(3.337,0.487),(3.372,0.473),(3.413,0.478),(3.448,0.468),(3.069,0.468),(3.151,0.455),(3.203,0.459),(3.238,0.464),(3.279,0.45),(3.314,0.459),(3.349,0.45),(3.39,0.455),(3.419,0.432),(3.034,0.441),(3.057,0.446),(3.092,0.432),(3.127,0.437),(3.174,0.441),(3.215,0.437),(3.256,0.437),(3.297,0.437),(3.326,0.423),(3.361,0.423),(3.396,0.423),
(3.005,0.409),(3.028,0.407),(3.051,0.409),(3.075,0.405),(3.104,0.409),(3.139,0.409),(3.162,0.405),(3.186,0.411),(3.232,0.414),(3.267,0.405),(3.302,0.40),(3.337,0.40),(3.378,0.396),(2.975,0.388),(3.022,0.377),(3.045,0.382),(3.08,0.377),(3.116,0.382),(3.145,0.386),(3.174,0.382),(3.215,0.386),(3.25,0.391),(3.285,0.382),(3.32,0.382),(3.355,0.386),(3.01,0.368),(3.04,0.359),(3.069,0.35),(3.098,0.355),(3.127,0.364),(3.156,0.355),(3.191,0.364),(3.221,0.359),(3.256,0.368),(3.291,0.364),(3.326,0.359),(2.97,0.355),(2.999,0.355),(3.028,0.341),(3.063,0.336),(3.098,0.332),(3.127,0.341),(3.162,0.336),(3.191,0.341),(3.232,0.336),(3.262,0.341),(3.291,0.332),(3.314,0.336),(3.335,0.336),(2.975,0.332),
(3.08,0.314),(3.127,0.314),(3.174,0.309),(3.238,0.309),(3.267,0.314),(3.3,0.309),(3.024,0.307),(3.069,0.295),(3.104,0.291),(3.139,0.291),(3.186,0.291),(3.215,0.286),(3.25,0.282),(3.279,0.286),(2.958,0.286),(3.045,0.277),(3.086,0.273),(3.121,0.264),(3.156,0.264),(3.186,0.268),(3.232,0.273),(3.262,0.273),(2.975,0.264),(3.022,0.268),(3.057,0.259),(3.104,0.259),(3.151,0.25),(3.191,0.254),(2.999,0.241),(3.034,0.241),(3.069,0.236),(3.116,0.236),(3.168,0.232),(3.203,0.241),(2.964,0.232),(2.987,0.218),(3.016,0.213),(3.051,0.209),(3.086,0.218),(3.127,0.213),(3.162,0.204),(3.197,0.213),
(2.958,0.2),(2.981,0.19),(3.01,0.19),(3.045,0.195),(3.08,0.19),(3.116,0.195),(3.151,0.186),(3.18,0.19),(2.97,0.177),(2.999,0.172),(3.028,0.172),(3.063,0.177),(3.098,0.168),(3.133,0.172),(3.162,0.172),(2.958,0.154),(2.987,0.154),(3.016,0.15),(3.045,0.154),(3.075,0.15),(3.11,0.145),(3.139,0.154),(2.975,0.136),(3.005,0.131),(3.034,0.127),(3.069,0.131),(3.098,0.127),(3.127,0.131),(2.964,0.109),(2.993,0.109),(3.022,0.109),(3.051,0.109),(3.08,0.113),(3.104,0.109),(2.981,0.09),(3.01,0.086),(3.04,0.09),(3.069,0.095),(2.97,0.068),(2.999,0.063),(3.028,0.072),(3.057,0.063),(2.964,0.045),(2.993,0.036),(3.016,0.04),(3.034,0.045),(2.975,0.022),(3.005,0.018),(2.964,0.009)]

bot_sup_e = [(3.484,0.998),(3.531,0.99),(3.554,0.983),(3.581,0.999),(3.636,0.998),(3.653,0.999),(3.698,0.998),(3.747,0.999),(3.784,0.993),(3.828,0.996),(3.863,0.999),(3.916,0.998),(3.939,0.999),(3.969,0.992),(3.49,0.978),(3.548,0.973),(3.571,0.96),(3.606,0.96),(3.624,0.978),(3.653,0.983),(3.694,0.964),(3.723,0.969),(3.758,0.978),(3.793,0.973),(3.828,0.978),(3.869,0.983),(3.898,0.969),(3.934,0.978),(3.957,0.973),(3.501,0.942),(3.536,0.942),(3.583,0.946),(3.612,0.946),(3.647,0.942),(3.677,0.951),(3.706,0.937),(3.747,0.951),(3.782,0.946),(3.817,0.942),(3.852,0.951),(3.881,0.942),(3.916,0.937),(3.939,0.946),
(3.496,0.905),(3.519,0.923),(3.554,0.928),(3.595,0.923),(3.63,0.919),(3.665,0.928),(3.7,0.919),(3.735,0.923),(3.77,0.928),(3.805,0.923),(3.84,0.919),(3.887,0.91),(3.501,0.882),(3.536,0.891),(3.571,0.882),(3.601,0.896),(3.63,0.887),(3.659,0.891),(3.688,0.9),(3.723,0.891),(3.758,0.896),(3.793,0.9),(3.828,0.891),(3.852,0.887),(3.496,0.855),(3.531,0.86),(3.566,0.85),(3.595,0.864),(3.624,0.869),(3.653,0.873),(3.682,0.869),(3.717,0.869),(3.747,0.873),(3.782,0.869),(3.817,0.873),(3.84,0.86),
(3.519,0.841),(3.554,0.837),(3.589,0.841),(3.618,0.841),(3.653,0.846),(3.688,0.846),(3.723,0.846),(3.758,0.841),(3.787,0.846),(3.811,0.832),(3.501,0.814),(3.536,0.823),(3.566,0.814),(3.601,0.819),(3.63,0.823),(3.659,0.814),(3.694,0.823),(3.729,0.823),(3.758,0.814),(3.496,0.796),(3.525,0.791),(3.56,0.796),(3.595,0.791),(3.624,0.80),(3.653,0.791),(3.682,0.796),(3.712,0.796),(3.741,0.796),(3.776,0.796),
(3.484,0.773),(3.519,0.773),(3.554,0.773),(3.589,0.773),(3.618,0.778),(3.647,0.768),(3.677,0.773),(3.706,0.778),(3.735,0.764),(3.756,0.759),(3.501,0.746),(3.536,0.75),(3.571,0.755),(3.601,0.746),(3.63,0.75),(3.665,0.755),(3.694,0.755),(3.49,0.727),(3.525,0.727),(3.56,0.727),(3.595,0.732),(3.624,0.723),(3.653,0.727),(3.682,0.727),(3.706,0.727),(3.513,0.705),(3.548,0.709),(3.577,0.705),(3.612,0.705),(3.642,0.709),(3.671,0.714),(3.694,0.70),
(3.484,0.691),(3.525,0.682),(3.56,0.686),(3.595,0.682),(3.624,0.686),(3.653,0.668),(3.496,0.659),(3.531,0.659),(3.566,0.655),(3.601,0.65),(3.484,0.636),(3.513,0.636),(3.548,0.636),(3.577,0.636),(3.606,0.632),(3.501,0.614),(3.536,0.614),(3.566,0.618),(3.595,0.609),(3.49,0.591),(3.525,0.586),(3.554,0.591),(3.577,0.60),(3.484,0.568),(3.513,0.568),(3.542,0.564),(3.496,0.545),(3.525,0.545),(3.484,0.523),(3.501,0.513),(3.484,0.491)]

# ---------------- assemble tables ----------------
def frame(pairs):
    arr = np.array(pairs, dtype=float)
    return pd.DataFrame({"t": arr[:, 0], "r": arr[:, 1]})

sup_top = frame(top_sup_a + top_sup_b + top_sup_c + top_sup_d + top_sup_e + top_sup_f + top_sup_edge)
sup_bot = frame(bot_sup_a + bot_sup_b + bot_sup_c + bot_sup_d + bot_sup_e)
sent_top = pd.DataFrame({"t": sent_top_x, "r": sent_top_y})
sent_bot = pd.DataFrame({"t": sent_bot_x, "r": sent_bot_y})
best_top = pd.DataFrame({"t": best_top_x, "r": best_top_y})
best_bot = pd.DataFrame({"t": best_bot_x, "r": best_bot_y})

# ---------------- style ----------------
sns.set_theme(style="white")
plt.rcParams["font.family"] = ["Liberation Sans", "DejaVu Sans"]
FS = 35.5

DARKRED = "#8b0000"
BLUE = "#0000ff"

fig = plt.figure(figsize=(15.4, 10.68), dpi=100)
ax_top = fig.add_axes([148/1540, 1-414/1068, 1141/1540, 406/1068])
ax_bot = fig.add_axes([148/1540, 1-822/1068, 1141/1540, 408/1068])

panels = [(ax_top, best_top, sent_top, sup_top, (-0.057, 1.052)),
          (ax_bot, best_bot, sent_bot, sup_bot, (-0.052, 1.063))]

for ax, best, sent, sup, ylim in panels:
    sns.scatterplot(data=sup, x="t", y="r", ax=ax, marker="x", s=20,
                    color=BLUE, linewidth=1.8, legend=False, zorder=3)
    sns.scatterplot(data=sent, x="t", y="r", ax=ax, marker="s", s=100,
                    color=DARKRED, edgecolor="none", linewidth=0, legend=False, zorder=4)
    sns.scatterplot(data=best, x="t", y="r", ax=ax, marker="s", s=100,
                    color="black", edgecolor="none", linewidth=0, legend=False, zorder=4)
    ax.set_xlim(0, 4)
    ax.set_ylim(*ylim)
    ax.set_xlabel("")
    ax.set_ylabel("")
    ax.set_yticks([0, 1])
    ax.set_yticklabels(["0", "1"])
    ax.set_xticks([0, 0.5, 1, 1.5, 2, 2.5, 3, 3.5, 4])
    for sp in ax.spines.values():
        sp.set_visible(True)
        sp.set_color("black")
        sp.set_linewidth(1.5)
    ax.tick_params(axis="both", direction="in", length=10, width=1.5,
                   colors="black", labelsize=FS)
    ax.tick_params(axis="y", left=True, right=True, pad=20)
    ax.grid(False)

ax_top.tick_params(axis="x", top=True, bottom=False, labelbottom=False, labeltop=False)
ax_bot.tick_params(axis="x", top=False, bottom=True, labelbottom=True, pad=21)
ax_bot.set_xticklabels(["0", "0.5", "1", "1.5", "2", "2.5", "3", "3.5", "4"])

fig.text(38/1540, 1-416/1068, "Feedback Value (r)", rotation=90,
         ha="center", va="center", fontsize=FS, color="black")
fig.text(718/1540, 1-943/1068, "Feedback Time (RTTs)",
         ha="center", va="center", fontsize=FS, color="black")
fig.text(1325/1540, 1-213/1068, "Unbiased", ha="left", va="center",
         fontsize=FS, color="black")
fig.text(1325/1540, 1-619/1068, "Biased", ha="left", va="center",
         fontsize=FS, color="black")

# legend: three right-justified entries, sample after text
entries = [("Best FB", "black", "s", 8, 404),
           ("Sent FB", DARKRED, "s", 8, 819),
           ("Suppressed", BLUE, "x", 3, 1234)]
for label, col, mk, ms, xr in entries:
    h = Line2D([], [], linestyle="none", marker=mk, color=col, markersize=ms,
               markeredgewidth=1.0)
    leg = fig.legend(handles=[h], labels=[label], loc="center right",
                     bbox_to_anchor=(xr/1540, 1-1042/1068), frameon=False,
                     markerfirst=False, handlelength=1.0, handletextpad=0.85,
                     borderpad=0, borderaxespad=0, fontsize=FS)
    for t in leg.get_texts():
        t.set_color(col)

fig.savefig("out.png", dpi=100)
